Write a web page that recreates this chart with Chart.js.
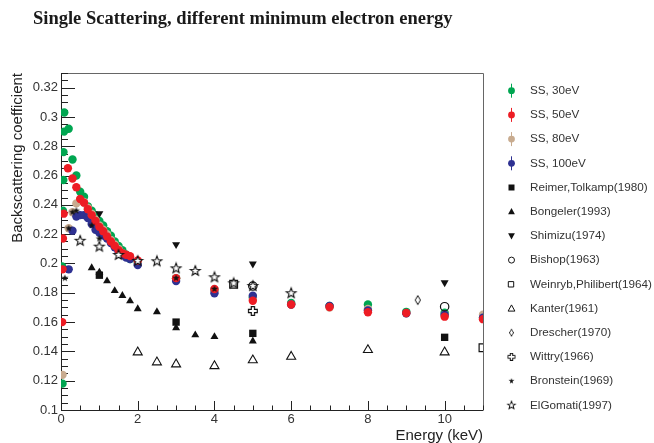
<!DOCTYPE html>
<html>
<head>
<meta charset="utf-8">
<script src="https://cdn.jsdelivr.net/npm/chart.js@4/dist/chart.umd.min.js"></script>
<style>
  html, body { margin: 0; padding: 0; background: #fff; }
</style>
</head>
<body>
<canvas id="chart" width="654" height="443"></canvas>
<script>
// simulation: single scattering, different minimum electron energies
const ss30E = [0.03, 0.04, 0.05, 0.06, 0.065, 0.08, 0.085, 0.2, 0.3, 0.4, 0.5, 0.6, 0.7, 0.8, 0.9, 1.0, 1.1, 1.2, 1.3, 1.4, 1.5, 1.6, 1.7, 1.8, 2, 3, 4, 5, 6, 7, 8, 9, 10, 11];
const ss30V = [0.198, 0.118, 0.236, 0.257, 0.276, 0.290, 0.303, 0.292, 0.271, 0.260, 0.249, 0.2455, 0.239, 0.236, 0.233, 0.229, 0.226, 0.222, 0.219, 0.215, 0.212, 0.209, 0.206, 0.203, 0.201, 0.190, 0.182, 0.177, 0.173, 0.171, 0.172, 0.167, 0.1664, 0.163];

const ss50E = [0.03, 0.04, 0.05, 0.07, 0.18, 0.3, 0.4, 0.5, 0.6, 0.7, 0.8, 0.9, 1.0, 1.1, 1.2, 1.3, 1.4, 1.5, 1.6, 1.7, 1.8, 2, 3, 4, 5, 6, 7, 8, 9, 10, 11];
const ss50V = [0.160, 0.196, 0.217, 0.234, 0.265, 0.258, 0.252, 0.244, 0.2415, 0.237, 0.233, 0.229, 0.225, 0.222, 0.2185, 0.215, 0.212, 0.209, 0.207, 0.206, 0.205, 0.202, 0.190, 0.1826, 0.1746, 0.172, 0.1703, 0.1667, 0.1662, 0.1637, 0.162];

const ss80E = [0.04, 0.2, 0.3, 0.4, 0.5, 0.6, 0.7, 0.8, 0.9, 1.0, 1.1, 1.2, 1.3, 1.4, 1.5, 1.6, 1.7, 1.8, 2, 3, 4, 5, 6, 7, 8, 9, 10, 11];
const ss80V = [0.124, 0.224, 0.235, 0.241, 0.243, 0.242, 0.238, 0.234, 0.230, 0.226, 0.223, 0.220, 0.216, 0.213, 0.210, 0.207, 0.205, 0.204, 0.201, 0.190, 0.181, 0.176, 0.172, 0.170, 0.169, 0.166, 0.165, 0.165];

const ss100E = [0.2, 0.3, 0.4, 0.5, 0.6, 0.7, 0.8, 0.9, 1.0, 1.1, 1.2, 1.3, 1.4, 1.5, 1.6, 1.7, 1.8, 2, 3, 4, 5, 6, 7, 8, 9, 10, 11];
const ss100V = [0.196, 0.2224, 0.232, 0.233, 0.233, 0.231, 0.227, 0.223, 0.221, 0.219, 0.217, 0.214, 0.211, 0.208, 0.206, 0.204, 0.203, 0.199, 0.188, 0.1797, 0.178, 0.172, 0.171, 0.168, 0.166, 0.165, 0.163];

// measurements
const reimerE = [1, 3, 5, 10];
const reimerV = [0.192, 0.160, 0.1523, 0.1496];
const bongelerE = [0.8, 1.0, 1.2, 1.4, 1.6, 1.8, 2.0, 2.5, 3, 3.5, 4, 5];
const bongelerV = [0.197, 0.194, 0.188, 0.1814, 0.178, 0.1744, 0.169, 0.167, 0.156, 0.1512, 0.150, 0.147];
const shimizuE = [1, 3, 5, 10];
const shimizuV = [0.234, 0.213, 0.1997, 0.187];
const bishopE = [5, 10];
const bishopV = [0.1846, 0.1705];
const weinrybE = [4.5, 11];
const weinrybV = [0.1858, 0.1425];
const kanterE = [2, 2.5, 3, 4, 5, 6, 8, 10];
const kanterV = [0.1394, 0.1326, 0.1312, 0.130, 0.134, 0.1364, 0.141, 0.1394];
const drescherE = [9.3];
const drescherV = [0.175];
const wittryE = [5];
const wittryV = [0.1676];
const bronsteinE = [0.1, 0.2, 0.3, 0.4, 0.8, 1.0, 3, 4];
const bronsteinV = [0.19, 0.224, 0.235, 0.236, 0.226, 0.217, 0.19, 0.1826];
const elgomatiE = [0.5, 1.0, 1.5, 2, 2.5, 3, 3.5, 4, 4.5, 5, 6];
const elgomatiV = [0.2155, 0.2115, 0.2058, 0.2017, 0.2015, 0.1967, 0.1949, 0.1906, 0.1865, 0.1846, 0.1797];

const xTicks = [0, 2, 4, 6, 8, 10];
const yTicks = [0.1, 0.12, 0.14, 0.16, 0.18, 0.2, 0.22, 0.24, 0.26, 0.28, 0.3, 0.32];

const GREEN = '#00a651', RED = '#ed1c24', TAN = '#c8ab8f', BLUE = '#2e3192';

function pts(E, V) { return E.map((e, i) => ({ x: e, y: V[i] })); }

// small canvases for markers chart.js has no style for
function makeMarker(size, draw) {
  const c = document.createElement('canvas');
  c.width = size; c.height = size;
  const g = c.getContext('2d');
  g.translate(size / 2, size / 2);
  draw(g);
  return c;
}
function starPath(g, R, r) {
  g.beginPath();
  for (let k = 0; k < 10; k++) {
    const a = -Math.PI / 2 + k * Math.PI / 5;
    const rr = k % 2 ? r : R;
    g.lineTo(rr * Math.cos(a), rr * Math.sin(a));
  }
  g.closePath();
}
const openStar = makeMarker(14, g => {
  starPath(g, 5.2, 2.2);
  g.fillStyle = '#fff'; g.fill();
  g.lineWidth = 1.1; g.strokeStyle = '#111'; g.stroke();
});
const smallStar = makeMarker(10, g => {
  starPath(g, 3.8, 1.6);
  g.fillStyle = '#111'; g.fill();
});
const openCross = makeMarker(12, g => {
  const a = 1.6, b = 4.4;
  g.beginPath();
  [[-a,-b],[a,-b],[a,-a],[b,-a],[b,a],[a,a],[a,b],[-a,b],[-a,a],[-b,a],[-b,-a],[-a,-a]].forEach(p => g.lineTo(p[0], p[1]));
  g.closePath();
  g.fillStyle = '#fff'; g.fill();
  g.lineWidth = 1.2; g.strokeStyle = '#111'; g.stroke();
});
const openDiamond = makeMarker(12, g => {
  g.beginPath();
  g.moveTo(0, -4.5); g.lineTo(2.6, 0); g.lineTo(0, 4.5); g.lineTo(-2.6, 0);
  g.closePath();
  g.fillStyle = '#fff'; g.fill();
  g.lineWidth = 1; g.strokeStyle = '#111'; g.stroke();
});

function ssSet(label, E, V, color, order) {
  return { label, data: pts(E, V), pointStyle: 'circle', pointRadius: 4.2, pointBorderWidth: 0,
    backgroundColor: color, borderColor: color, order, ss: true };
}
function expSet(label, E, V, style, opts, order) {
  return Object.assign({ label, data: pts(E, V), pointStyle: style, pointRadius: 5, pointBorderWidth: 0,
    backgroundColor: '#111', borderColor: '#111', order }, opts);
}

const datasets = [
  ssSet('SS, 30eV', ss30E, ss30V, GREEN, 23),
  ssSet('SS, 50eV', ss50E, ss50V, RED, 20),
  ssSet('SS, 80eV', ss80E, ss80V, TAN, 22),
  ssSet('SS, 100eV', ss100E, ss100V, BLUE, 21),
  expSet('Reimer,Tolkamp(1980)', reimerE, reimerV, 'rect', { pointRadius: 5.2 }, 9),
  expSet('Bongeler(1993)', bongelerE, bongelerV, 'triangle', { pointRadius: 4.6 }, 8),
  expSet('Shimizu(1974)', shimizuE, shimizuV, 'triangle', { pointRadius: 4.6, pointRotation: 180 }, 7),
  expSet('Bishop(1963)', bishopE, bishopV, 'circle', { pointRadius: 4.2, pointBorderWidth: 1.2, backgroundColor: 'rgba(255,255,255,0)' }, 6),
  expSet('Weinryb,Philibert(1964)', weinrybE, weinrybV, 'rect', { pointRadius: 5.5, pointBorderWidth: 1.2, backgroundColor: 'rgba(255,255,255,0)' }, 5),
  expSet('Kanter(1961)', kanterE, kanterV, 'triangle', { pointRadius: 5.2, pointBorderWidth: 1.1, backgroundColor: '#fff' }, 4),
  expSet('Drescher(1970)', drescherE, drescherV, openDiamond, {}, 3),
  expSet('Wittry(1966)', wittryE, wittryV, openCross, {}, 2),
  expSet('Bronstein(1969)', bronsteinE, bronsteinV, smallStar, {}, 1),
  expSet('ElGomati(1997)', elgomatiE, elgomatiV, openStar, {}, 0)
];

// ROOT-like frame with inward ticks
const frameTicks = {
  id: 'frameTicks',
  beforeDatasetsDraw(chart) {
    const { ctx, chartArea: a, scales: { x, y } } = chart;
    ctx.save();
    ctx.lineWidth = 1;
    ctx.strokeStyle = '#666';
    ctx.beginPath();
    ctx.moveTo(a.left, a.top + 0.5); ctx.lineTo(a.right + 0.5, a.top + 0.5); ctx.lineTo(a.right + 0.5, a.bottom);
    ctx.stroke();
    ctx.strokeStyle = '#222';
    ctx.beginPath();
    ctx.moveTo(a.left + 0.5, a.top); ctx.lineTo(a.left + 0.5, a.bottom + 0.5); ctx.lineTo(a.right + 0.5, a.bottom + 0.5);
    for (let k = 0; k <= 46; k++) {
      const v = 0.1 + k * 0.005;
      const py = Math.round(y.getPixelForValue(v)) + 0.5;
      const len = k % 4 === 0 ? 14 : 7;
      ctx.moveTo(a.left, py); ctx.lineTo(a.left + len, py);
    }
    for (let k = 0; k <= 22; k++) {
      const px = Math.round(x.getPixelForValue(k * 0.5)) + 0.5;
      const len = k % 4 === 0 ? 9 : 4.5;
      ctx.moveTo(px, a.bottom); ctx.lineTo(px, a.bottom - len);
    }
    ctx.stroke();
    ctx.restore();
  }
};

// title and legend
const extras = {
  id: 'extras',
  afterDraw(chart) {
    const ctx = chart.ctx;
    ctx.save();
    ctx.fillStyle = '#1a1a1a';
    ctx.font = 'bold 18.5px "Liberation Serif"';
    ctx.textBaseline = 'alphabetic';
    ctx.fillText('Single Scattering, different minimum electron energy', 33, 24);

    ctx.font = '11.7px "Liberation Sans"';
    ctx.textBaseline = 'middle';
    const mx = 511, tx = 530;
    chart.data.datasets.forEach((ds, i) => {
      const cy = 90.7 + i * 24.2;
      ctx.fillStyle = '#333';
      ctx.fillText(ds.label, tx, cy);
      const st = ds.pointStyle;
      if (ds.ss) {
        ctx.strokeStyle = ds.backgroundColor; ctx.lineWidth = 1;
        ctx.beginPath(); ctx.moveTo(mx + 0.5, cy - 7); ctx.lineTo(mx + 0.5, cy + 7); ctx.stroke();
        ctx.fillStyle = ds.backgroundColor;
        ctx.beginPath(); ctx.arc(mx + 0.5, cy, 3.4, 0, Math.PI * 2); ctx.fill();
      } else if (st instanceof HTMLCanvasElement) {
        const s = 0.8, w = st.width * s, h = st.height * s;
        ctx.drawImage(st, mx + 0.5 - w / 2, cy - h / 2, w, h);
      } else {
        ctx.fillStyle = '#111'; ctx.strokeStyle = '#111'; ctx.lineWidth = 1;
        const open = ds.pointBorderWidth > 0;
        ctx.beginPath();
        if (st === 'rect') {
          const h = open ? 3.2 : 3;
          if (open) ctx.rect(mx - h + 0.5, cy - h + 0.5, 2 * h - 1, 2 * h - 1);
          else ctx.rect(mx - h + 0.5, cy - h, 2 * h, 2 * h);
        } else if (st === 'circle') {
          ctx.arc(mx + 0.5, cy, 3, 0, Math.PI * 2);
        } else if (st === 'triangle') {
          const d = ds.pointRotation === 180 ? -1 : 1;
          ctx.moveTo(mx + 0.5, cy - 3.6 * d);
          ctx.lineTo(mx + 0.5 + 3.4, cy + 2.6 * d);
          ctx.lineTo(mx + 0.5 - 3.4, cy + 2.6 * d);
          ctx.closePath();
        }
        if (open) ctx.stroke(); else ctx.fill();
      }
    });
    ctx.restore();
  }
};

new Chart(document.getElementById('chart'), {
  type: 'scatter',
  data: { datasets },
  options: {
    responsive: false,
    animation: false,
    layout: { padding: { top: 73, right: 171, left: 0, bottom: 0 } },
    plugins: { legend: { display: false }, tooltip: { enabled: false } },
    scales: {
      x: {
        type: 'linear', min: 0, max: 11,
        afterFit: s => { s.height = 33; },
        afterBuildTicks: s => { s.ticks = xTicks.map(v => ({ value: v })); },
        ticks: { font: { family: 'Liberation Sans', size: 13 }, color: '#333', padding: 2, maxRotation: 0 },
        grid: { display: false, drawTicks: false },
        border: { display: false },
        title: { display: true, text: 'Energy (keV)', align: 'end', color: '#222',
                 font: { family: 'Liberation Sans', size: 15 }, padding: { top: 0, bottom: -2 } }
      },
      y: {
        type: 'linear', min: 0.1, max: 0.33,
        afterFit: s => { s.width = 61; },
        afterBuildTicks: s => { s.ticks = yTicks.map(v => ({ value: v })); },
        ticks: { font: { family: 'Liberation Sans', size: 13 }, color: '#333', padding: 3,
                 callback: v => String(Number(v.toFixed(2))) },
        grid: { display: false, drawTicks: false },
        border: { display: false },
        title: { display: true, text: 'Backscattering coefficient', align: 'end', color: '#222',
                 font: { family: 'Liberation Sans', size: 15 }, padding: { top: 9, bottom: 0 } }
      }
    }
  },
  plugins: [frameTicks, extras]
});
</script>
</body>
</html>
